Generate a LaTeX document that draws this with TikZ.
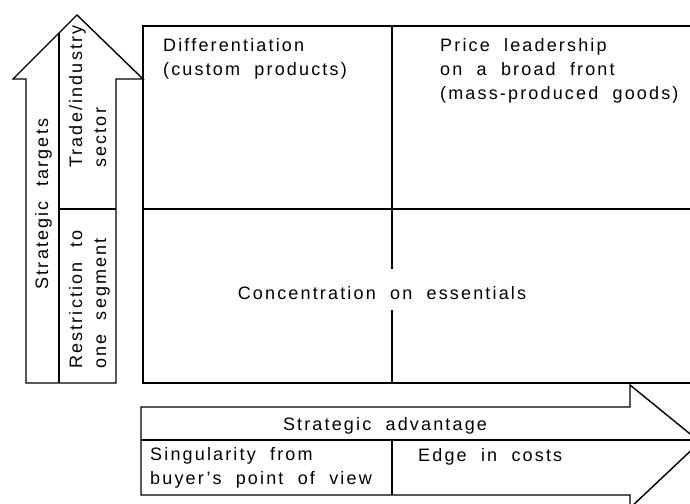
\documentclass[tikz,border=0pt]{standalone}
\usepackage{fontspec}
\setmainfont{Liberation Sans}[LetterSpace=12,WordSpace=2]
\begin{document}
\begin{tikzpicture}[x=1pt,y=-1pt,
  ln/.style={line width=1.4pt, line join=miter},
  lbl/.style={inner sep=0pt, font=\fontsize{18}{24}\selectfont},
  lbll/.style={lbl, align=left}]
\useasboundingbox (0,0) rectangle (690,503);
\clip (0,0) rectangle (690,503);
\fill[white] (0,0) rectangle (690,503);
% vertical arrow (strategic targets)
\draw[ln] (26,383) -- (26,79) -- (13,79) -- (77,15) -- (143,79) -- (116,79) -- (116,383) -- cycle;
\coordinate (vdtop) at (59,33);
\coordinate (vdbot) at (59,383);
\draw[ln] (vdtop) -- (vdbot);
\coordinate (vhl) at (59,209);
\coordinate (vhr) at (116,209);
\draw[ln] (vhl) -- (vhr);
% matrix
\coordinate (mtr) at (692,26);
\coordinate (mtl) at (143,26);
\coordinate (mbl) at (143,383);
\coordinate (mbr) at (692,383);
\draw[ln] (mtr) -- (mtl) -- (mbl) -- (mbr);
\coordinate (mml) at (143,209);
\coordinate (mmr) at (692,209);
\draw[ln] (mml) -- (mmr);
\coordinate (mv1) at (392,26);
\coordinate (mv2) at (392,269);
\coordinate (mv3) at (392,310);
\coordinate (mv4) at (392,383);
\draw[ln] (mv1) -- (mv2);
\draw[ln] (mv3) -- (mv4);
% horizontal arrow (strategic advantage)
\draw[ln] (141,407) -- (630,407) -- (630,385) -- (700,442) -- (630,508) -- (630,495) -- (141,495) -- cycle;
\coordinate (hdl) at (141,440);
\coordinate (hdr) at (693,440);
\draw[ln] (hdl) -- (hdr);
\coordinate (hv1) at (392,440);
\coordinate (hv2) at (392,495);
\draw[ln] (hv1) -- (hv2);
% texts
\node[lbll, anchor=north west] (diff) at (163,38) {Differentiation\\(custom products)};
\node[lbll, anchor=north west] (price) at (440,38) {Price leadership\\on a broad front\\(mass-produced goods)};
\node[lbl, anchor=base] (conc) at (382,299) {Concentration on essentials};
\node[lbl, anchor=base] (adv) at (385,430) {Strategic advantage};
\node[lbll, anchor=north west] (sing) at (150,447) {Singularity from\\buyer's point of view};
\node[lbl, anchor=base west] (edge) at (418,461) {Edge in costs};
\node[lbl, anchor=base, rotate=90] (targ) at (48,204) {Strategic targets};
\node[lbll, anchor=north west, rotate=90] (trade) at (69,168) {Trade/industry\\sector};
\node[lbll, anchor=north west, rotate=90] (restr) at (69,369) {Restriction to\\one segment};
\end{tikzpicture}
\end{document}
